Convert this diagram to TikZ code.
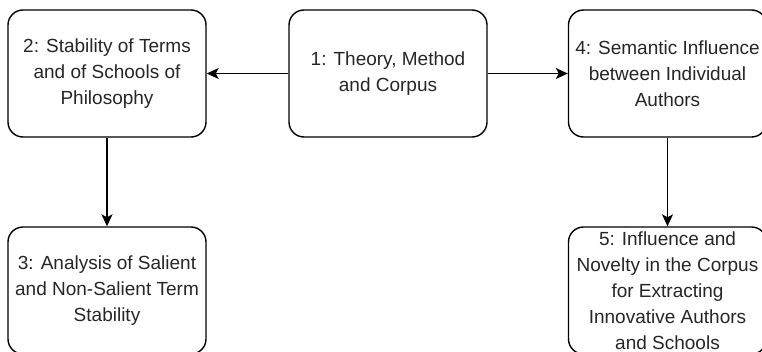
\documentclass[tikz,border=0pt]{standalone}
\usepackage{fontspec}
\setmainfont{Liberation Sans}
\usetikzlibrary{arrows.meta}
\begin{document}
\begin{tikzpicture}[x=1pt,y=-1pt,
        box/.style={draw, rounded corners=15pt, line width=1.4pt, minimum width=198pt, minimum height=127pt, inner sep=0pt, align=center, text=black!85, font=\fontsize{19}{26}\selectfont},
        link/.style={-{Stealth[length=12pt,width=11pt,inset=3pt]}, line width=1.4pt}]
        \useasboundingbox (0,0) rectangle (762,351);
        \clip (0,0) rectangle (762,351);
        %\draw[gray, dashed] (0,0) grid[step=50] (762,351);

        \node[box] (theory) at (388,73.5) {1: Theory, Method\\and Corpus};
        \node[box] (stability) at (107,73.5) {2: Stability of Terms\\and of Schools of\\Philosophy};
        \node[box] (semantic) at (667.5,73.5) {4: Semantic Influence\\between Individual\\Authors};

        \node[box] (salient) at (107,290.5) {3: Analysis of Salient\\and Non-Salient Term\\Stability};
        \node[box] (novelty) at (667.5,290.5) {5: Influence and\\Novelty in the Corpus\\for Extracting\\Innovative Authors\\and Schools};

        \draw[link] (theory) -- (stability);
        \draw[link] (theory) -- (semantic);
        \draw[link] (stability) -- (salient);
        \draw[link] (semantic) -- (novelty);
    \end{tikzpicture}
\end{document}
